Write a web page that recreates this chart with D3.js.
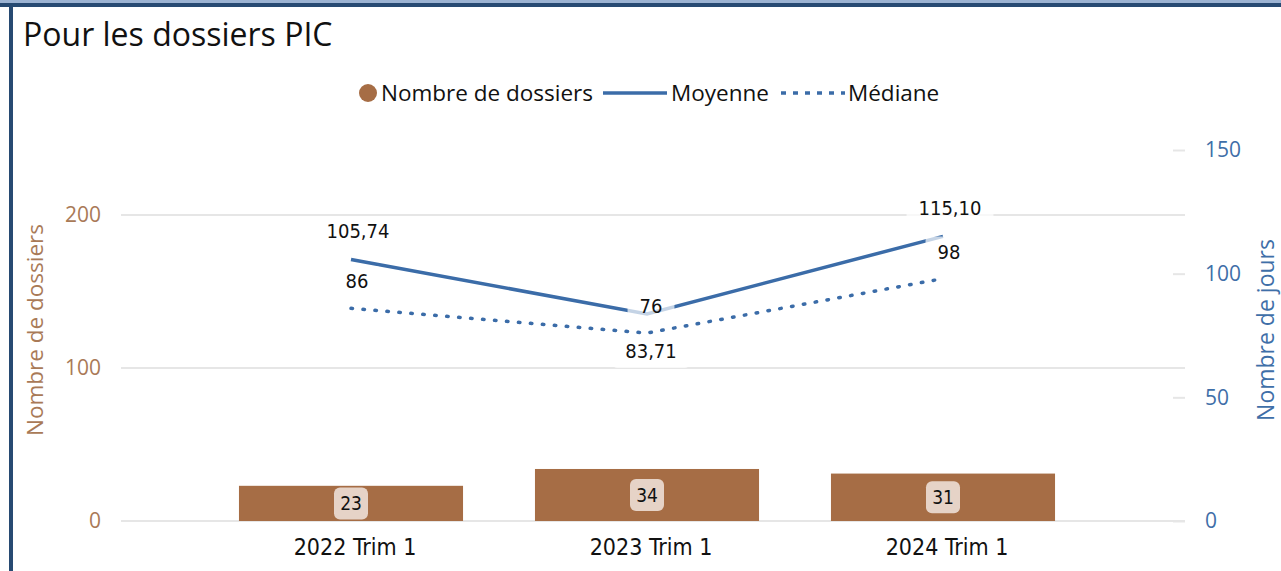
<!DOCTYPE html>
<html>
<head>
<meta charset="utf-8">
<script src="https://cdn.jsdelivr.net/npm/d3@7"></script>
<style>
  body { margin: 0; background: #fff; }
  svg { display: block; }
</style>
</head>
<body>
<div id="chart"></div>
<script>
// Chart values
var periods = ["2022 Trim 1", "2023 Trim 1", "2024 Trim 1"];
var nbDossiers = [23, 34, 31];
var moyenne = [105.74, 83.71, 115.10];
var mediane = [86, 76, 98];
var leftTicks = [0, 100, 200];
var rightTicks = [0, 50, 100, 150];

var W = 1281, H = 571;
var brown = "#a66d45", blue = "#3b6ca8";

var svg = d3.select("#chart").append("svg")
    .attr("width", W)
    .attr("height", H);

// frame: top bars and left border
svg.append("rect").attr("x", 0).attr("y", 0).attr("width", W).attr("height", 4).attr("fill", "#9cb3d2");
svg.append("rect").attr("x", 0).attr("y", 3).attr("width", W).attr("height", 4).attr("fill", "#274a72");
svg.append("rect").attr("x", 9).attr("y", 3).attr("width", 4).attr("height", H).attr("fill", "#274a72");

// Title
svg.append("text")
    .attr("x", 23).attr("y", 46)
    .style("font-family", "'Open Sans', sans-serif")
    .style("font-size", "32px")
    .attr("fill", "#111")
    .text("Pour les dossiers PIC");

// Scales
var x = d3.scaleBand()
    .domain(periods)
    .range([203, 1091])
    .paddingInner(0.243)
    .paddingOuter(0.1215);
var yL = d3.scaleLinear().domain([0, 200]).range([521, 215]);
var yR = d3.scaleLinear().domain([0, 150]).range([521, 150]);

// gridlines (left axis)
svg.append("g").selectAll("line")
    .data(leftTicks)
  .enter().append("line")
    .attr("x1", 121).attr("x2", 1185)
    .attr("y1", d => yL(d)).attr("y2", d => yL(d))
    .attr("stroke", "#e6e6e6").attr("stroke-width", 2);

// left axis
var gL = svg.append("g")
    .attr("transform", "translate(101,0)")
    .call(d3.axisLeft(yL).tickValues(leftTicks).tickSize(0).tickPadding(0));
gL.select(".domain").remove();
gL.selectAll("text")
    .attr("fill", "#a97a57")
    .style("font-family", "'Open Sans', sans-serif")
    .style("font-size", "21px");

// right axis
var gR = svg.append("g")
    .attr("transform", "translate(1185,0)")
    .call(d3.axisRight(yR).tickValues(rightTicks).tickSize(0).tickPadding(20));
gR.select(".domain").remove();
gR.selectAll(".tick").append("line")
    .attr("x1", -12).attr("x2", 0)
    .attr("stroke", "#e6e6e6").attr("stroke-width", 2);
gR.selectAll("text")
    .attr("fill", "#3f6fa8")
    .style("font-family", "'Open Sans', sans-serif")
    .style("font-size", "21px");

// axis titles
svg.append("text")
    .attr("transform", "translate(43,330) rotate(-90)")
    .attr("text-anchor", "middle")
    .attr("fill", "#a97a57")
    .style("font-family", "'Open Sans', sans-serif")
    .style("font-size", "22.5px")
    .text("Nombre de dossiers");
svg.append("text")
    .attr("transform", "translate(1274,330) rotate(-90)")
    .attr("text-anchor", "middle")
    .attr("fill", "#3f6fa8")
    .style("font-family", "'Open Sans', sans-serif")
    .style("font-size", "23px")
    .text("Nombre de jours");

// category labels
svg.append("g").selectAll("text")
    .data(periods)
  .enter().append("text")
    .attr("x", d => x(d) + x.bandwidth() / 2 + 4)
    .attr("y", 555)
    .attr("text-anchor", "middle")
    .attr("fill", "#111")
    .style("font-family", "'DejaVu Sans Condensed', sans-serif")
    .style("font-size", "23px")
    .text(d => d);

// bars
var bars = periods.map((p, i) => ({ p: p, v: nbDossiers[i] }));
svg.append("g").selectAll("rect")
    .data(bars)
  .enter().append("rect")
    .attr("x", d => x(d.p))
    .attr("width", x.bandwidth())
    .attr("y", d => yL(d.v))
    .attr("height", d => yL(0) - yL(d.v))
    .attr("fill", brown);

// lines
var line = d3.line()
    .x(d => x(d.p) + x.bandwidth() / 2)
    .y(d => yR(d.v));
var moyData = periods.map((p, i) => ({ p: p, v: moyenne[i] }));
var medData = periods.map((p, i) => ({ p: p, v: mediane[i] }));

svg.append("path")
    .datum(medData)
    .attr("d", line)
    .attr("fill", "none")
    .attr("stroke", blue)
    .attr("stroke-width", 3.5)
    .attr("stroke-linecap", "round")
    .attr("stroke-dasharray", "1.5 10.5");
svg.append("path")
    .datum(moyData)
    .attr("d", line)
    .attr("fill", "none")
    .attr("stroke", blue)
    .attr("stroke-width", 3.5);

// line labels (white translucent background, like the source)
var fmt = v => d3.format(".2f")(v).replace(".", ",");
var lblFont = "'DejaVu Sans Condensed', sans-serif";
var lineLabels = [];
periods.forEach((p, i) => {
  var cx = x(p) + x.bandwidth() / 2;
  if (i === 1) {
    lineLabels.push({ x: cx + 4, y: yR(moyenne[i]) + 44, t: fmt(moyenne[i]) });
    lineLabels.push({ x: cx + 4, y: yR(mediane[i]) - 20, t: String(mediane[i]) });
  } else {
    lineLabels.push({ x: cx + 7, y: yR(moyenne[i]) - 21, t: fmt(moyenne[i]) });
    lineLabels.push({ x: cx + 6, y: yR(mediane[i]) - 20, t: String(mediane[i]) });
  }
});
var ll = svg.append("g").selectAll("g")
    .data(lineLabels)
  .enter().append("g");
ll.append("text")
    .attr("x", d => d.x).attr("y", d => d.y)
    .attr("text-anchor", "middle")
    .attr("fill", "#111")
    .style("font-family", lblFont)
    .style("font-size", "20px")
    .text(d => d.t)
    .each(function(d) { d.bb = this.getBBox(); });
ll.insert("rect", "text")
    .attr("x", d => d.bb.x - 12)
    .attr("y", d => d.bb.y - 3)
    .attr("width", d => d.bb.width + 24)
    .attr("height", d => d.bb.height + 8)
    .attr("rx", 4)
    .attr("fill", "#fff")
    .attr("opacity", 0.7);

// bar labels
var bl = svg.append("g").selectAll("g")
    .data(bars)
  .enter().append("g");
bl.append("rect")
    .attr("x", d => x(d.p) + x.bandwidth() / 2 - 17)
    .attr("y", d => (yL(d.v) + yL(0)) / 2 - 16)
    .attr("width", 34)
    .attr("height", 32)
    .attr("rx", 6)
    .attr("fill", "#e6d3c7");
bl.append("text")
    .attr("x", d => x(d.p) + x.bandwidth() / 2)
    .attr("y", d => (yL(d.v) + yL(0)) / 2 + 7)
    .attr("text-anchor", "middle")
    .attr("fill", "#111")
    .style("font-family", lblFont)
    .style("font-size", "19px")
    .text(d => d.v);

// legend
var lg = svg.append("g").style("font-family", "'Open Sans', sans-serif").style("font-size", "22.5px");
lg.append("circle").attr("cx", 368).attr("cy", 93).attr("r", 9).attr("fill", brown);
lg.append("text").attr("x", 381).attr("y", 101).attr("fill", "#111").text("Nombre de dossiers");
lg.append("line").attr("x1", 603).attr("x2", 667).attr("y1", 93).attr("y2", 93)
    .attr("stroke", blue).attr("stroke-width", 3.5);
lg.append("text").attr("x", 671).attr("y", 101).attr("fill", "#111").text("Moyenne");
lg.append("line").attr("x1", 781).attr("x2", 845).attr("y1", 93).attr("y2", 93)
    .attr("stroke", blue).attr("stroke-width", 3.5)
    .attr("stroke-dasharray", "5 7");
lg.append("text").attr("x", 848).attr("y", 101).attr("fill", "#111").text("Médiane");
</script>
</body>
</html>
